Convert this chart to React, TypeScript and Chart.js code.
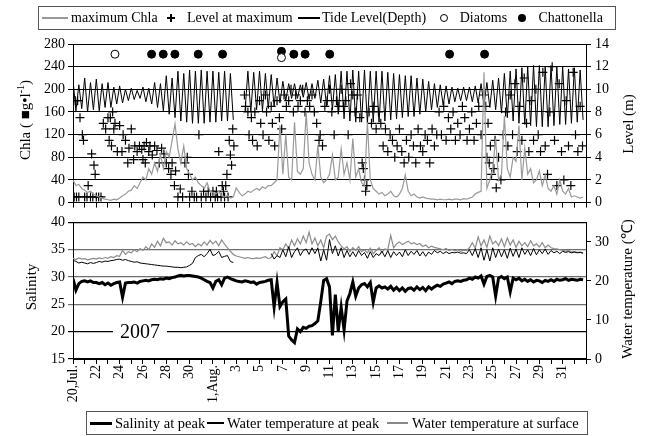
import React, { useEffect, useRef } from 'react';
import { Chart, registerables } from 'chart.js';
Chart.register(...registerables);

const SERIF = '"Liberation Serif", "Times New Roman", serif';

// x axis: days since 20 Jul 2007 (0..44)
const xTickLabels = ['20,Jul.', '22', '24', '26', '28', '30', '1,Aug.', '3', '5', '7', '9', '11', '13', '15', '17', '19', '21', '23', '25', '27', '29', '31'];
const chlaTicks = [0, 40, 80, 120, 160, 200, 240, 280];
const SAMPLES_PER_DAY = 4;

// Tide level (m), 4 samples per day (high, low, high, low)
const tideLevel: (number | null)[] = [
  10.8, 8.1, 10.4, 8.3,
  11.0, 8.0, 10.6, 8.2,
  10.9, 8.1, 10.5, 8.4,
  10.6, 8.4, 10.2, 8.7,
  10.3, 8.8, 10.0, 9.0,
  10.1, 9.1, 9.9, 9.2,
  10.2, 8.9, 10.1, 8.7,
  10.6, 8.4, 10.5, 8.1,
  11.2, 7.8, 11.0, 7.5,
  11.6, 7.2, 11.4, 7.1,
  11.7, 7.0, 11.6, 7.0,
  11.7, 7.0, 11.6, 7.1,
  11.6, 7.1, 11.5, 7.2,
  11.6, 7.2, 11.4, 7.3,
  null, null, null, 8.0,
  11.6, 8.0, 11.5, 8.2,
  11.6, 8.1, 11.4, 8.3,
  11.3, 8.5, 11.0, 8.8,
  10.7, 9.0, 10.5, 9.2,
  10.5, 9.2, 10.4, 9.3,
  10.6, 9.1, 10.5, 9.2,
  10.8, 8.8, 10.9, 8.5,
  11.2, 8.2, 11.3, 7.8,
  11.6, 7.4, 11.6, 7.2,
  11.7, 7.1, 11.6, 7.1,
  11.7, 7.0, 11.6, 7.1,
  11.6, 7.1, 11.6, 7.2,
  11.5, 7.3, 11.4, 7.4,
  11.3, 7.5, 11.2, 7.6,
  11.2, 7.6, 11.0, 7.8,
  10.9, 8.0, 10.7, 8.2,
  10.5, 8.4, 10.4, 8.6,
  10.3, 8.7, 10.2, 8.9,
  10.1, 9.0, 10.2, 9.0,
  10.2, 8.9, 10.3, 8.8,
  10.5, 8.6, 10.6, 8.4,
  10.8, 8.2, 11.0, 7.9,
  11.4, 7.5, 11.6, 7.2,
  11.8, 7.0, 11.9, 6.9,
  12.0, 6.8, 12.1, 6.7,
  12.1, 6.7, 12.0, 6.7,
  12.1, 6.8, 12.0, 6.9,
  12.0, 6.9, 11.8, 7.0,
  11.9, 7.1, 11.7, 7.3,
];

// maximum Chla (µg/l), 4 samples per day
const maxChla: number[] = [
  40, 30, 32, 25,
  22, 18, 20, 15,
  12, 10, 8, 6,
  5, 4, 6, 5,
  8, 12, 15, 20,
  22, 30, 25, 35,
  45, 40, 60, 50,
  70, 55, 85, 60,
  90, 80, 110, 139,
  95, 70, 100, 60,
  50, 40, 45, 35,
  30, 25, 35, 20,
  18, 15, 20, 12,
  10, 12, 8, 10,
  26, 18, 12, 15,
  20, 18, 22, 25,
  22, 28, 25, 30,
  30, 35, 40, 136,
  50, 120, 45, 40,
  142, 55, 50, 60,
  160, 70, 50, 40,
  101, 45, 35, 40,
  50, 84, 40, 45,
  95, 50, 70, 40,
  113, 45, 60, 35,
  30, 142, 40, 25,
  20, 15, 18, 12,
  15, 20, 12, 10,
  15, 25, 49, 20,
  12, 15, 10, 8,
  10, 8, 7, 6,
  6, 5, 6, 5,
  5, 6, 5, 6,
  6, 5, 7, 6,
  8, 10, 15, 18,
  20, 230, 25, 40,
  60, 113, 40, 50,
  153, 60, 45, 80,
  73, 136, 40, 96,
  50, 60, 35, 40,
  56, 30, 49, 25,
  20, 30, 15, 40,
  20, 15, 25, 10,
  12, 10, 8, 10,
];

// Level at maximum: [day, level (m)]
const levelAtMaximum: [number, number][] = [
  [0.1, 0.5], [0.3, 0.5], [0.5, 0.5], [0.2, 9.0], [0.4, 9.0], [0.6, 7.5], [0.8, 6.0], [0.9, 5.5], [1.0, 0.5], [1.2, 0.5],
  [1.3, 1.5], [1.5, 0.5], [1.6, 4.3], [1.8, 3.3], [1.9, 2.5], [1.7, 0.5], [2.0, 0.5], [2.2, 0.5], [2.4, 0.5], [2.6, 7.0],
  [2.8, 6.5], [3.0, 7.5], [3.1, 5.5], [3.3, 5.0], [3.5, 6.5], [3.6, 7.0], [3.8, 4.5], [4.0, 6.8], [4.2, 4.5], [4.3, 6.0],
  [4.5, 5.5], [4.7, 3.5], [4.8, 4.8], [5.0, 6.5], [5.2, 3.8], [3.4, 8.0], [3.2, 7.5],
  [5.3, 5.0], [5.5, 4.5], [5.7, 5.0], [5.9, 4.7], [6.1, 5.0], [6.3, 5.3], [6.5, 4.5], [6.6, 5.0], [6.8, 4.2], [7.0, 5.0],
  [7.2, 4.6], [7.4, 3.5], [7.6, 4.8], [7.8, 4.3], [6.0, 3.8], [6.2, 3.5],
  [8.0, 3.5], [8.2, 3.0], [8.4, 2.5], [8.5, 3.5], [8.7, 1.5], [8.8, 2.8], [9.0, 0.5], [9.2, 1.2], [9.4, 0.5], [9.6, 3.5],
  [9.8, 4.0], [9.9, 2.5], [10.0, 0.5], [10.2, 1.0], [10.4, 0.5],
  [10.6, 0.5], [10.8, 6.0], [11.0, 0.5], [11.2, 1.0], [11.4, 0.5], [11.6, 1.0], [11.8, 0.5], [12.0, 1.0], [12.2, 0.5], [12.4, 0.5],
  [12.5, 4.5], [12.3, 1.0],
  [12.7, 0.5], [12.9, 1.0], [13.0, 0.5], [13.1, 1.5], [13.3, 0.5], [13.4, 5.5], [13.5, 4.2], [13.6, 3.3], [13.7, 6.5], [13.8, 5.0],
  [13.2, 2.5], [12.8, 1.5],
  [14.7, 9.5], [14.8, 8.5], [15.0, 8.0], [15.1, 6.0], [15.3, 7.5], [15.4, 5.5], [15.6, 8.0], [15.8, 5.0], [16.0, 9.0], [16.1, 7.0],
  [16.3, 6.0], [16.5, 9.5], [16.6, 8.0], [16.8, 5.5], [17.0, 8.5], [17.1, 7.0], [17.3, 5.0], [17.5, 9.0], [17.7, 7.5], [17.9, 6.5],
  [18.1, 9.5], [18.3, 8.5], [18.5, 9.0], [18.7, 10.0], [18.9, 8.0], [19.1, 9.5], [19.3, 8.5], [19.5, 9.0], [19.7, 10.0], [19.9, 8.0],
  [20.1, 9.0], [20.3, 8.5], [20.5, 9.5], [20.7, 8.0], [20.9, 7.0],
  [21.1, 5.5], [21.2, 6.0], [21.4, 5.0], [21.6, 8.5], [21.8, 9.0], [22.0, 10.0], [22.2, 8.0], [22.4, 6.0], [22.6, 9.0], [22.8, 8.5],
  [23.0, 10.0], [23.2, 8.5], [23.4, 9.0], [23.6, 6.0],
  [23.8, 10.5], [24.0, 9.5], [24.2, 8.0], [24.4, 9.5], [24.6, 7.5], [24.8, 3.5], [24.9, 3.0], [25.0, 2.0], [25.1, 1.0], [25.2, 1.5],
  [25.4, 8.0], [25.6, 7.0], [25.8, 8.5], [26.0, 6.5], [26.2, 8.0], [26.4, 7.0],
  [26.6, 5.0], [26.8, 6.5], [27.0, 4.5], [27.2, 6.0], [27.4, 5.5], [27.6, 4.0], [27.8, 5.0], [28.0, 6.5], [28.2, 4.5], [28.4, 3.5],
  [28.6, 5.5], [28.8, 4.0], [29.0, 6.0], [29.2, 5.0], [29.4, 3.5], [29.6, 6.5], [29.8, 5.0], [30.0, 4.5], [30.2, 6.0], [30.4, 5.5],
  [30.6, 3.5], [30.8, 6.5], [31.0, 5.0], [31.2, 6.0],
  [31.4, 8.0], [31.6, 6.0], [31.8, 8.5], [32.0, 5.5], [32.2, 7.5], [32.4, 6.5], [32.6, 8.0], [32.8, 5.5], [33.0, 7.0], [33.2, 6.0],
  [33.4, 8.5], [33.6, 7.5], [33.8, 5.5], [34.0, 6.5], [34.2, 8.0], [34.4, 5.5], [34.6, 7.0], [34.8, 8.5], [35.0, 6.0], [35.2, 9.5],
  [35.4, 8.5], [35.6, 7.0], [35.8, 5.0],
  [35.5, 4.0], [35.7, 3.5], [35.9, 2.5], [36.1, 3.0], [36.3, 1.3], [36.5, 4.0], [36.7, 2.0], [36.9, 6.0], [36.2, 5.5],
  [37.1, 8.0], [37.3, 5.0], [37.5, 9.5], [37.7, 6.0], [37.9, 10.5], [38.1, 4.5], [38.3, 8.5], [38.5, 5.5], [38.7, 11.0], [38.9, 7.0],
  [39.1, 4.5], [39.3, 9.0], [39.5, 5.5], [39.7, 10.0], [39.9, 6.0], [40.1, 4.5], [40.3, 11.5], [40.5, 5.0], [40.7, 2.5], [40.9, 8.0],
  [41.1, 12.0], [41.3, 5.5], [41.5, 1.5], [41.7, 10.5], [41.9, 4.5], [42.1, 2.0], [42.3, 9.0], [42.5, 5.0], [42.7, 1.5], [42.9, 11.5],
  [43.1, 6.0], [43.3, 4.5], [43.5, 8.5], [43.7, 5.0],
];

// Plankton observations (plotted on the Chla axis)
const diatomDays = [3.6, 17.88];
const diatomMarks = [262, 256];
const chattonellaDays = [6.74, 7.74, 8.74, 10.74, 12.83, 17.88, 18.94, 19.91, 22.02, 32.3, 35.3];
const chattonellaMarks = [262, 262, 262, 262, 262, 267, 262, 262, 262, 262, 262];

// Salinity at peak, 4 samples per day
const salinityAtPeak: number[] = [
  29.7, 27.6, 28.8, 29.2,
  29.3, 29.1, 29.3, 29.0,
  29.0, 28.8, 29.0, 28.6,
  28.9, 28.5, 28.8, 29.0,
  29.1, 26.3, 28.9, 29.0,
  29.0, 29.1, 28.9, 29.2,
  29.3, 29.4, 29.3, 29.5,
  29.6, 29.5, 29.7, 29.6,
  29.8, 29.7, 29.9, 30.0,
  30.2, 30.3, 30.2, 30.3,
  30.3, 30.2, 30.1, 30.0,
  29.8, 29.5, 29.2, 29.0,
  28.0, 29.2, 29.5, 28.6,
  29.8, 30.0, 29.7, 29.5,
  29.3, 29.2, 29.1, 29.3,
  29.2, 29.0, 29.1, 28.7,
  29.0, 29.1, 29.2, 29.4,
  29.5, 24.5, 29.0, 24.6,
  25.5, 26.0, 19.2, 18.5,
  18.0, 20.5, 20.0, 20.8,
  20.6, 21.0, 21.1, 21.5,
  22.0, 25.5, 29.4, 29.7,
  28.2, 19.3, 26.8, 20.1,
  24.5, 20.3, 25.6, 27.0,
  29.1, 26.5, 28.0, 28.6,
  28.8, 28.2, 29.0, 25.4,
  28.0, 28.4, 28.0, 28.2,
  27.8, 28.3, 27.6, 28.1,
  27.5, 28.0, 27.4, 27.9,
  28.0, 27.6, 28.2, 27.7,
  28.1, 27.5, 28.2, 27.8,
  28.2, 28.5, 28.3, 28.7,
  28.9, 29.1, 28.8, 29.2,
  29.3, 29.2, 29.4, 29.5,
  29.8, 29.6, 30.0, 29.8,
  30.2, 28.7, 30.1, 30.3,
  30.0, 26.5, 29.8, 30.1,
  29.7, 30.0, 27.3, 29.8,
  29.5, 29.8, 29.3, 29.6,
  29.2, 29.5, 29.1, 29.4,
  29.3, 29.0, 29.4, 29.2,
  29.5, 29.2, 29.6, 29.4,
  29.5, 29.7, 29.4, 29.6,
  29.5, 29.4, 29.6, 29.5,
];

// Water temperature at peak (°C), 4 samples per day
const tempAtPeak: (number | null)[] = [
  25.3, 25.0, 24.6, 24.8,
  24.6, 24.4, 24.7, 24.5,
  24.7, 25.0, 24.8, 25.1,
  25.0, 25.2, 25.3, 25.5,
  25.6, 25.3, 25.5, 25.2,
  25.0, 24.8, 24.9, 24.6,
  24.5, 24.4, 24.3, 24.2,
  24.1, 24.0, 23.9, 23.8,
  23.8, 23.7, 23.6, 23.5,
  23.5, 23.4, 23.5, 23.6,
  24.0, 24.5, 26.0, 26.5,
  26.8, 26.2, 27.0, 28.1,
  26.5, 26.8, 27.6, 26.0,
  26.3, 26.5, 25.0, 24.7,
  null, null, null, null,
  null, null, null, null,
  null, null, null, null,
  27.0, 25.6, 26.5, 26.0,
  28.0, 26.2, 28.8, 26.0,
  27.5, 28.5, 26.5, 27.8,
  28.2, 26.8, 28.5, 27.0,
  28.5, 25.1, 28.0, 25.3,
  30.6, 27.0, 29.0, 26.4,
  28.5, 26.0, 27.8, 26.2,
  27.5, 26.2, 27.8, 26.5,
  27.3, 25.8, 27.5, 26.0,
  27.0, 26.5, 27.6, 26.2,
  27.8, 26.0, 27.5, 26.5,
  27.4, 26.2, 28.0, 26.5,
  27.6, 26.8, 27.8, 26.4,
  27.5, 26.3, 27.4, 26.8,
  27.8, 27.2, 27.6, 27.0,
  27.5, 27.0, 27.3, 27.2,
  27.4, 27.1, 27.2, 27.0,
  28.0, 26.5, 28.3, 26.0,
  28.5, 25.3, 28.0, 25.1,
  28.5, 26.0, 28.2, 26.2,
  28.0, 25.8, 28.4, 26.3,
  28.2, 26.0, 28.5, 26.8,
  28.0, 26.5, 28.3, 26.7,
  28.0, 27.0, 28.2, 26.8,
  27.8, 27.2, 27.6, 27.0,
  27.6, 27.3, 27.5, 27.2,
  27.4, 27.2, 27.3, 27.1,
];

// Water temperature at surface (°C), 4 samples per day
const tempAtSurface: number[] = [
  25.8, 25.5, 25.9, 25.6,
  25.7, 25.4, 25.6, 25.8,
  25.6, 25.9, 25.7, 26.0,
  25.8, 26.2, 26.0, 26.5,
  26.3, 27.8, 26.8, 27.5,
  27.2, 28.0, 27.5, 28.3,
  27.8, 28.8, 28.0, 29.5,
  28.6, 30.2, 29.0, 30.9,
  29.8, 30.0, 29.2, 30.3,
  29.5, 29.8, 29.2, 30.0,
  29.3, 29.6, 28.8, 29.5,
  29.0, 30.0, 29.2, 30.4,
  29.5, 30.2, 29.0, 30.5,
  29.4, 28.5, 27.6, 26.8,
  26.4, 26.2, 26.0, 25.8,
  26.0, 25.8, 25.7, 25.9,
  25.8, 26.0, 26.2, 25.7,
  26.0, 27.5, 26.5, 28.5,
  28.0, 29.5, 28.3, 30.5,
  29.0, 30.8, 29.5, 31.5,
  29.8, 32.5, 29.5, 31.0,
  29.0, 30.5, 28.5, 31.5,
  32.0, 30.6, 31.5, 30.0,
  29.0, 28.2, 28.8, 27.5,
  28.5, 27.8, 28.8, 27.5,
  28.0, 27.2, 28.4, 27.0,
  27.8, 28.5, 27.3, 28.2,
  28.0, 31.7, 28.5, 29.5,
  30.0, 29.3, 29.8, 30.2,
  29.5, 29.8, 29.3, 29.6,
  28.8, 29.2, 28.5, 28.9,
  28.6, 28.4, 28.2, 28.0,
  28.3, 27.8, 28.1, 27.7,
  28.0, 27.6, 27.9, 27.8,
  28.5, 29.8, 28.4, 31.3,
  29.0, 30.5, 28.6, 31.5,
  29.5, 30.2, 29.0, 30.8,
  28.8, 31.0, 29.2, 30.5,
  28.6, 30.2, 29.0, 29.8,
  28.8, 30.3, 29.0, 29.5,
  28.7, 29.8, 28.5, 29.2,
  28.5, 28.3, 28.2, 28.0,
  27.9, 27.6, 27.8, 27.4,
  27.5, 27.3, 27.4, 27.2,
];

const YEAR_TEXT = '2007';
const YEAR_DAY = 5.74;
const YEAR_SALINITY = 20;

const series = (arr: (number | null)[]) => arr.map((v, i) => ({ x: i / SAMPLES_PER_DAY, y: v }));
const pairs = (xs: number[], ys: number[]) => xs.map((x, i) => ({ x, y: ys[i] }));

const tickFont = { family: SERIF, size: 14 };

function xAxis(showLabels: boolean, height: number) {
  return {
    type: 'linear' as const,
    min: 0,
    max: 44,
    ticks: {
      stepSize: 1,
      maxTicksLimit: 100,
      autoSkip: false,
      display: showLabels,
      minRotation: 90,
      maxRotation: 90,
      padding: 1,
      color: '#000',
      font: tickFont,
      callback: (value: any) => {
        const v = Number(value);
        if (v % 2 === 0 && v / 2 < xTickLabels.length) return xTickLabels[v / 2];
        return '';
      },
    },
    grid: { drawOnChartArea: false, drawTicks: true, tickLength: 5, color: '#000' },
    border: { display: true, color: '#000', width: 1 },
    afterFit: (s: any) => { s.height = height; },
  };
}

const yearPlugin = {
  id: 'yearLabel',
  beforeDatasetsDraw(chart: any) {
    const { ctx, scales } = chart;
    const x = scales.x.getPixelForValue(YEAR_DAY);
    const y = scales.y.getPixelForValue(YEAR_SALINITY);
    ctx.save();
    ctx.font = `20px ${SERIF}`;
    const w = ctx.measureText(YEAR_TEXT).width;
    ctx.fillStyle = '#fff';
    ctx.fillRect(x - w / 2 - 7, y - 10, w + 14, 20);
    ctx.fillStyle = '#000';
    ctx.textAlign = 'center';
    ctx.textBaseline = 'middle';
    ctx.fillText(YEAR_TEXT, x, y + 1);
    ctx.restore();
  },
};

export default function App() {
  const topRef = useRef<HTMLCanvasElement>(null);
  const botRef = useRef<HTMLCanvasElement>(null);

  useEffect(() => {
    const top = new Chart(topRef.current!, {
      type: 'line',
      data: {
        datasets: [
          {
            label: 'maximum Chla', data: series(maxChla), yAxisID: 'y',
            borderColor: '#9a9a9a', borderWidth: 1.2, pointRadius: 0, order: 1,
          },
          {
            label: 'Level at maximum', type: 'scatter',
            data: levelAtMaximum.map(([d, m]) => ({ x: d, y: m })), yAxisID: 'y2',
            pointStyle: 'cross', pointRadius: 4.5, borderColor: '#000', backgroundColor: '#000', borderWidth: 1.2,
            showLine: false, order: 2,
          },
          {
            label: 'Tide Level(Depth)', data: series(tideLevel), yAxisID: 'y2',
            borderColor: '#000', borderWidth: 1, pointRadius: 0, spanGaps: false, order: 3,
          },
          {
            label: 'Diatoms', type: 'scatter', data: pairs(diatomDays, diatomMarks), yAxisID: 'y',
            pointStyle: 'circle', pointRadius: 4, backgroundColor: '#fff', borderColor: '#000', borderWidth: 1, order: 0,
          },
          {
            label: 'Chattonella', type: 'scatter', data: pairs(chattonellaDays, chattonellaMarks), yAxisID: 'y',
            pointStyle: 'circle', pointRadius: 4, backgroundColor: '#000', borderColor: '#000', borderWidth: 1, order: 0,
          },
        ] as any,
      },
      options: {
        responsive: false,
        animation: false,
        events: [],
        layout: { padding: { top: 44, left: 0, right: 0, bottom: 0 } },
        plugins: { legend: { display: false }, tooltip: { enabled: false } },
        scales: {
          x: xAxis(false, 10) as any,
          y: {
            position: 'left', min: 0, max: 280,
            ticks: { stepSize: 40, color: '#000', font: tickFont, padding: 3, callback: (v: any) => (chlaTicks.includes(Number(v)) ? String(v) : '') },
            grid: { color: '#000', tickLength: 5, lineWidth: 1 },
            border: { display: true, color: '#000' },
            afterFit: (s: any) => { s.width = 73; },
          },
          y2: {
            position: 'right', min: 0, max: 14,
            ticks: { stepSize: 2, color: '#000', font: tickFont, padding: 4 },
            grid: { drawOnChartArea: false, color: '#000', tickLength: 5 },
            border: { display: true, color: '#000' },
            afterFit: (s: any) => { s.width = 59; },
          },
        } as any,
      },
    });

    const bot = new Chart(botRef.current!, {
      type: 'line',
      data: {
        datasets: [
          {
            label: 'Salinity at peak', data: series(salinityAtPeak), yAxisID: 'y',
            borderColor: '#000', borderWidth: 3, pointRadius: 0, order: 1,
          },
          {
            label: 'Water temperature at peak', data: series(tempAtPeak), yAxisID: 'y2',
            borderColor: '#000', borderWidth: 1, pointRadius: 0, spanGaps: false, order: 2,
          },
          {
            label: 'Water temperature at surface', data: series(tempAtSurface), yAxisID: 'y2',
            borderColor: '#8c8c8c', borderWidth: 1.2, pointRadius: 0, order: 3,
          },
        ] as any,
      },
      options: {
        responsive: false,
        animation: false,
        events: [],
        layout: { padding: { top: 7, left: 0, right: 0, bottom: 0 } },
        plugins: { legend: { display: false }, tooltip: { enabled: false } },
        scales: {
          x: xAxis(true, 51) as any,
          y: {
            position: 'left', min: 15, max: 40,
            ticks: { stepSize: 5, color: '#000', font: tickFont, padding: 3 },
            grid: {
              tickLength: 5,
              lineWidth: 1.2,
              color: (c: any) => (c.tick && (c.tick.value === 40 || c.tick.value === 20 || c.tick.value === 15) ? '#000' : '#6e6e6e'),
            },
            border: { display: true, color: '#000' },
            afterFit: (s: any) => { s.width = 73; },
          },
          y2: {
            position: 'right', min: 0, max: 35,
            ticks: { stepSize: 5, color: '#000', font: tickFont, padding: 4 },
            grid: { drawOnChartArea: false, color: '#000', tickLength: 5 },
            border: { display: true, color: '#000' },
            afterFit: (s: any) => { s.width = 59; },
          },
        } as any,
      },
      plugins: [yearPlugin],
    });

    return () => { top.destroy(); bot.destroy(); };
  }, []);

  const abs = (o: React.CSSProperties): React.CSSProperties => ({ position: 'absolute', ...o });
  const text = (left: number, cy: number, size: number, s: string) => (
    <span style={abs({ left, top: cy - 12, lineHeight: '24px', fontSize: size, whiteSpace: 'nowrap' })}>{s}</span>
  );
  const hline = (x1: number, x2: number, cy: number, w: number, color: string) => (
    <div style={abs({ left: x1, top: cy - w / 2, width: x2 - x1, height: w, background: color })} />
  );
  const rotTitle = (cx: number, cy: number, content: React.ReactNode) => (
    <div style={abs({ left: cx, top: cy, transform: 'translate(-50%, -50%) rotate(-90deg)', whiteSpace: 'nowrap', fontSize: 15, lineHeight: '18px' })}>{content}</div>
  );

  const T = 18; // top legend centre line
  const B = 423; // bottom legend centre line

  return (
    <div style={{ position: 'fixed', left: 0, top: 0, width: 645, height: 436, background: '#fff', fontFamily: SERIF, color: '#000', overflow: 'hidden' }}>
      <canvas ref={topRef} width={645} height={215} style={abs({ left: 0, top: 0, width: 645, height: 215 })} />
      <canvas ref={botRef} width={645} height={200} style={abs({ left: 0, top: 210, width: 645, height: 200 })} />

      {/* top legend */}
      <div style={abs({ left: 38, top: 6, width: 578, height: 24, border: '1.5px solid #555', boxSizing: 'border-box' })} />
      {hline(42, 68, T, 1.5, '#999')}
      {text(71, T, 14, 'maximum Chla')}
      {hline(167, 175, T, 1.2, '#000')}
      <div style={abs({ left: 170.4, top: T - 4, width: 1.2, height: 8, background: '#000' })} />
      {text(187, T, 14, 'Level at maximum')}
      {hline(298, 320, T, 1.5, '#000')}
      {text(322, T, 14, 'Tide Level(Depth)')}
      <div style={abs({ left: 439.5, top: T - 4, width: 8, height: 8, borderRadius: '50%', border: '1px solid #000', boxSizing: 'border-box' })} />
      {text(459.7, T, 14, 'Diatoms')}
      <div style={abs({ left: 518.3, top: T - 4, width: 8, height: 8, borderRadius: '50%', background: '#000' })} />
      {text(538.4, T, 14, 'Chattonella')}

      {/* axis titles */}
      {rotTitle(25, 120, <span>Chla ( ■g•l<sup style={{ fontSize: 10, lineHeight: 0 }}>-1</sup>)</span>)}
      {rotTitle(628, 124, 'Level (m)')}
      {rotTitle(31, 287, 'Salinity')}
      {rotTitle(627, 289, 'Water temperature (℃)')}

      {/* bottom legend */}
      <div style={abs({ left: 86, top: 411, width: 502, height: 24, border: '1.5px solid #555', boxSizing: 'border-box' })} />
      {hline(90, 112, B, 3, '#000')}
      {text(115, B, 14.5, 'Salinity at peak')}
      {hline(207, 224, B, 1.2, '#000')}
      {text(227, B, 14.5, 'Water temperature at peak')}
      {hline(387, 408, B, 1.2, '#888')}
      {text(412, B, 14.5, 'Water temperature at surface')}
    </div>
  );
}
